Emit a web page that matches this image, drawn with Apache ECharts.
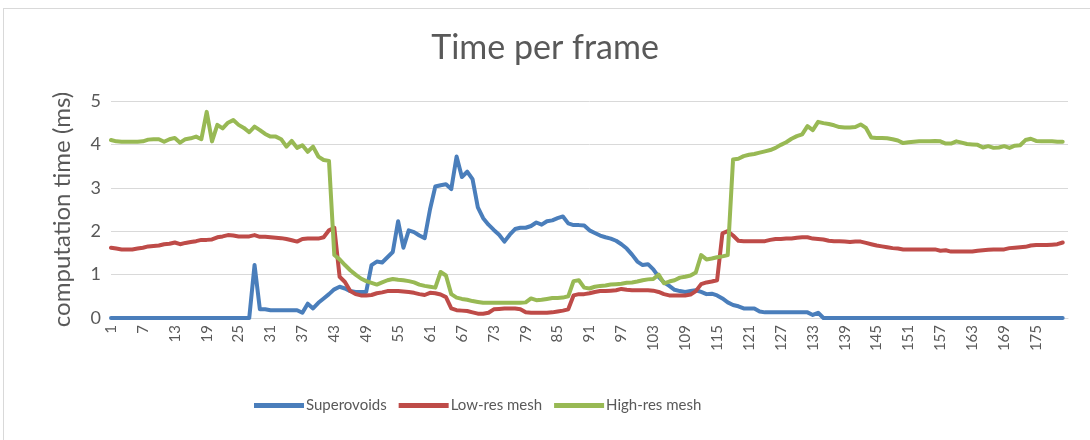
<!DOCTYPE html>
<html>
<head>
<meta charset="utf-8">
<script src="https://cdn.jsdelivr.net/npm/echarts@6/dist/echarts.min.js"></script>
<style>
  html, body { margin: 0; padding: 0; background: #ffffff; }
  #frame { position: absolute; left: 3px; top: 8px; width: 1100px; height: 450px; border: 1px solid #d9d9d9; box-sizing: border-box; }
  #chart { position: absolute; left: 0; top: 0; width: 1090px; height: 440px; }
</style>
</head>
<body>
<div id="frame"></div>
<div id="chart"></div>
<script>
// Frame numbers along the x axis (one spare slot after the last frame)
const frames = Array.from({ length: 181 }, (_, k) => String(k + 1));

// Computation time per frame, in milliseconds
const superovoids = [
  0, 0, 0, 0, 0, 0, 0, 0, 0, 0, 0, 0, 0, 0, 0, 0, 0, 0, 0, 0, 0, 0, 0, 0, 0, 0, 0,
  1.22, 0.2, 0.2,
  0.18, 0.18, 0.18, 0.18, 0.18, 0.18, 0.12, 0.33, 0.22, 0.35, 0.45, 0.55, 0.66, 0.72, 0.68,
  0.62, 0.6, 0.6, 0.6, 1.22, 1.3, 1.28, 1.4, 1.52, 2.23, 1.62, 2.02, 1.98, 1.9, 1.84,
  2.5, 3.03, 3.06, 3.08, 2.97, 3.72, 3.25, 3.37, 3.2, 2.55, 2.3, 2.15, 2.03, 1.92, 1.76,
  1.92, 2.05, 2.08, 2.08, 2.12, 2.2, 2.15, 2.23, 2.25, 2.3, 2.34, 2.18, 2.14, 2.14, 2.13,
  2.02, 1.96, 1.9, 1.86, 1.83, 1.78, 1.7, 1.6, 1.46, 1.3, 1.22, 1.24, 1.12, 0.95, 0.82,
  0.74, 0.65, 0.62, 0.6, 0.62, 0.64, 0.6, 0.55, 0.56, 0.52, 0.45, 0.36, 0.3, 0.27, 0.22,
  0.22, 0.22, 0.15, 0.13, 0.13, 0.13, 0.13, 0.13, 0.13, 0.13, 0.13, 0.13, 0.07, 0.12,
  0, 0, 0, 0, 0, 0, 0, 0, 0, 0, 0, 0, 0, 0, 0, 0, 0, 0, 0, 0, 0, 0, 0,
  0, 0, 0, 0, 0, 0, 0, 0, 0, 0, 0, 0, 0, 0, 0, 0, 0, 0, 0, 0, 0, 0, 0
];

const lowResMesh = [
  1.62, 1.60, 1.58, 1.58, 1.58, 1.60, 1.62, 1.65, 1.66, 1.67, 1.70, 1.71, 1.74, 1.70, 1.73,
  1.75, 1.77, 1.80, 1.80, 1.81, 1.86, 1.88, 1.91, 1.90, 1.88, 1.88, 1.88, 1.91, 1.87, 1.87,
  1.86, 1.85, 1.84, 1.82, 1.79, 1.76, 1.82, 1.83, 1.83, 1.83, 1.86, 2.02, 2.08, 0.95, 0.83,
  0.62, 0.55, 0.52, 0.52, 0.53, 0.57, 0.59, 0.62, 0.62, 0.62, 0.61, 0.60, 0.58, 0.55, 0.53,
  0.58, 0.57, 0.54, 0.48, 0.22, 0.18, 0.17, 0.16, 0.13, 0.1, 0.1, 0.12, 0.2, 0.21, 0.22,
  0.22, 0.22, 0.2, 0.13, 0.12, 0.12, 0.12, 0.12, 0.13, 0.15, 0.17, 0.2, 0.52, 0.55, 0.55,
  0.57, 0.6, 0.62, 0.62, 0.63, 0.64, 0.67, 0.65, 0.64, 0.64, 0.64, 0.64, 0.63, 0.6, 0.55,
  0.52, 0.52, 0.52, 0.52, 0.54, 0.62, 0.78, 0.82, 0.84, 0.87, 1.95, 2.0, 1.9, 1.78, 1.77,
  1.77, 1.77, 1.77, 1.77, 1.8, 1.82, 1.82, 1.83, 1.83, 1.85, 1.86, 1.86, 1.83, 1.82, 1.81,
  1.78, 1.77, 1.77, 1.76, 1.75, 1.76, 1.76, 1.73, 1.7, 1.67, 1.65, 1.63, 1.61, 1.6, 1.58,
  1.58, 1.58, 1.58, 1.58, 1.58, 1.58, 1.55, 1.56, 1.53, 1.53, 1.53, 1.53, 1.53, 1.55, 1.56,
  1.57, 1.58, 1.58, 1.58, 1.61, 1.62, 1.63, 1.64, 1.67, 1.68, 1.68, 1.68, 1.69, 1.7, 1.74
];

const highResMesh = [
  4.10, 4.07, 4.06, 4.06, 4.06, 4.06, 4.07, 4.11, 4.12, 4.12, 4.06, 4.12, 4.15, 4.04, 4.12,
  4.14, 4.18, 4.12, 4.75, 4.07, 4.45, 4.37, 4.50, 4.56, 4.45, 4.38, 4.28, 4.41, 4.33, 4.24,
  4.18, 4.18, 4.12, 3.95, 4.08, 3.92, 3.98, 3.83, 3.95, 3.72, 3.64, 3.62, 1.45, 1.35, 1.22,
  1.10, 1.00, 0.91, 0.85, 0.81, 0.77, 0.82, 0.87, 0.90, 0.88, 0.87, 0.85, 0.82, 0.77, 0.74,
  0.72, 0.70, 1.06, 0.98, 0.55, 0.47, 0.44, 0.42, 0.39, 0.37, 0.35, 0.35, 0.35, 0.35, 0.35,
  0.35, 0.35, 0.35, 0.36, 0.45, 0.41, 0.42, 0.44, 0.46, 0.46, 0.47, 0.5, 0.85, 0.87, 0.7,
  0.68, 0.72, 0.74, 0.75, 0.77, 0.78, 0.79, 0.81, 0.82, 0.84, 0.87, 0.89, 0.9, 1.0, 0.8,
  0.84, 0.87, 0.93, 0.95, 0.98, 1.05, 1.45, 1.35, 1.37, 1.4, 1.42, 1.45, 3.65, 3.67, 3.73,
  3.76, 3.78, 3.81, 3.84, 3.87, 3.92, 3.99, 4.05, 4.13, 4.19, 4.23, 4.42, 4.33, 4.52, 4.49,
  4.47, 4.44, 4.4, 4.39, 4.39, 4.4, 4.46, 4.38, 4.16, 4.15, 4.15, 4.14, 4.12, 4.09, 4.03,
  4.05, 4.06, 4.07, 4.07, 4.07, 4.08, 4.07, 4.02, 4.02, 4.07, 4.04, 4.01, 4.0, 3.99, 3.93,
  3.96, 3.92, 3.93, 3.96, 3.92, 3.97, 3.98, 4.1, 4.13, 4.08, 4.07, 4.07, 4.07, 4.06, 4.06
];

const seriesNames = ['Superovoids', 'Low-res mesh', 'High-res mesh'];
const seriesColors = ['#4a7ebb', '#be4b48', '#98b954'];
const seriesData = [superovoids, lowResMesh, highResMesh];

const textColor = '#595959';
const fontFamily = 'Lato, "Open Sans", sans-serif';

const chart = echarts.init(document.getElementById('chart'), null, { renderer: 'canvas' });

chart.setOption({
  animation: false,
  backgroundColor: 'transparent',
  color: seriesColors,
  title: {
    text: 'Time per frame',
    left: 'center',
    top: 26,
    textStyle: { color: textColor, fontFamily: fontFamily, fontSize: 34, fontWeight: 'normal' }
  },
  legend: {
    data: seriesNames,
    bottom: 22,
    left: 249,
    icon: 'rect',
    itemWidth: 50,
    itemHeight: 5,
    itemGap: 12,
    textStyle: { color: textColor, fontFamily: fontFamily, fontSize: 15, padding: [0, 0, 0, -3] }
  },
  grid: { left: 111, top: 101, width: 957, height: 217, containLabel: false },
  xAxis: {
    type: 'category',
    data: frames,
    boundaryGap: false,
    axisLine: { lineStyle: { color: '#d9d9d9', width: 1 } },
    axisTick: { show: false },
    axisLabel: {
      rotate: 90,
      interval: (index) => index % 6 === 0 && index < 180,
      color: textColor,
      fontFamily: fontFamily,
      fontSize: 15,
      margin: 7
    },
    splitLine: { show: false }
  },
  yAxis: {
    type: 'value',
    min: 0,
    max: 5,
    interval: 1,
    name: 'computation time (ms)',
    nameLocation: 'middle',
    nameRotate: 90,
    nameGap: 37,
    nameTextStyle: { color: textColor, fontFamily: fontFamily, fontSize: 24 },
    axisLine: { show: false },
    axisTick: { show: false },
    axisLabel: { color: textColor, fontFamily: fontFamily, fontSize: 18, margin: 10 },
    splitLine: { lineStyle: { color: '#d9d9d9', width: 1 } }
  },
  series: seriesNames.map((name, k) => ({
    name: name,
    type: 'line',
    data: seriesData[k],
    symbol: 'none',
    showSymbol: false,
    smooth: false,
    lineStyle: { width: 4, color: seriesColors[k], cap: 'round', join: 'round' },
    itemStyle: { color: seriesColors[k] },
    z: 2 + k
  }))
});
</script>
</body>
</html>
